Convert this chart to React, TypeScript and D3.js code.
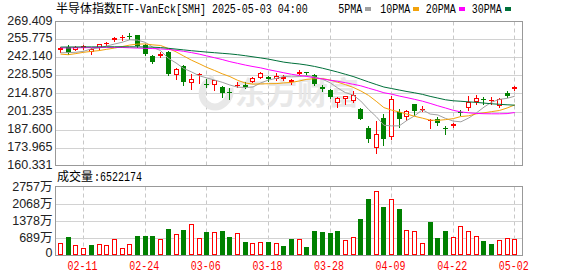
import React from "react";
import * as d3 from "d3";

// ---- data ----
const dates = ["02-06","02-07","02-10","02-11","02-12","02-13","02-14","02-18","02-19","02-20","02-21","02-24","02-25","02-26","02-27","02-28","03-03","03-04","03-05","03-06","03-07","03-10","03-11","03-12","03-13","03-14","03-17","03-18","03-19","03-20","03-21","03-24","03-25","03-26","03-27","03-28","03-31","04-01","04-02","04-03","04-04","04-07","04-08","04-09","04-10","04-11","04-14","04-15","04-16","04-17","04-21","04-22","04-23","04-24","04-25","04-28","04-29","04-30","05-01","05-02"];

const open = [248.00,250.28,248.00,249.01,246.48,249.27,252.31,255.35,257.12,258.64,259.15,251.54,243.19,242.93,246.23,229.25,235.58,222.91,228.74,222.16,221.65,219.62,215.82,221.14,221.14,223.67,226.97,227.22,225.96,226.21,223.93,230.01,231.02,229.25,219.87,217.85,207.97,211.00,208.98,202.90,188.96,173.76,196.56,181.87,200.87,196.82,206.70,202.14,193.78,195.81,188.71,189.98,201.12,203.91,208.47,211.00,209.49,205.69,215.31,218.35];
const high = [249.77,251.54,250.53,251.54,249.27,252.31,254.08,257.88,259.40,260.41,259.40,252.31,244.20,246.23,246.99,234.06,236.09,230.01,230.52,225.70,225.45,220.89,219.37,223.42,223.42,227.48,231.28,228.49,230.52,228.74,226.21,232.80,231.28,230.01,221.65,218.10,212.27,212.78,216.58,204.17,189.98,194.03,199.10,212.78,202.90,202.14,207.21,205.18,195.55,197.07,189.98,192.51,202.65,212.78,213.54,212.27,212.02,211.51,216.84,220.89];
const low = [246.48,244.45,247.75,248.25,244.96,248.76,251.29,254.59,255.35,256.11,250.28,244.20,237.86,242.17,228.74,225.96,221.14,218.10,223.17,219.87,217.85,212.27,211.00,219.87,219.11,223.42,226.46,224.44,224.94,224.94,222.16,230.01,229.50,221.65,216.84,211.51,204.67,207.21,208.47,195.30,178.07,169.96,175.53,180.35,189.47,194.54,198.85,201.63,188.71,191.24,184.40,189.47,198.85,202.65,207.21,207.21,207.21,204.67,212.53,217.34];
const close = [249.01,245.21,249.77,250.79,248.76,252.05,252.81,257.12,257.63,258.13,250.79,244.45,238.62,244.45,229.50,233.05,223.67,225.70,229.76,221.14,224.94,215.31,215.05,221.65,219.87,226.97,230.52,226.21,227.99,227.22,225.45,231.53,230.52,222.41,218.61,212.27,211.51,212.78,213.54,195.55,180.60,184.40,180.10,211.00,195.81,201.37,201.63,203.15,194.54,192.51,188.20,191.50,200.36,208.77,211.77,210.50,210.25,210.75,212.78,219.87];

// volume in 万 shares
const volume = [493,733,386,280,400,440,400,626,280,440,759,759,759,626,1039,839,999,1239,666,919,919,959,719,879,533,480,519,533,480,360,639,639,320,959,919,879,959,599,706,1439,2238,2557,1918,2238,1838,999,959,480,1319,679,959,719,1159,959,759,573,440,599,679,652];

const ma5 = [245.69,245.85,246.07,246.83,248.71,249.32,250.84,252.31,253.67,255.55,255.30,253.62,249.92,247.29,241.56,238.01,233.86,231.27,228.34,226.66,225.04,223.37,221.29,219.67,219.42,219.82,222.86,225.04,226.31,227.78,227.48,227.68,228.54,227.43,225.70,223.07,219.06,215.52,213.74,209.13,202.80,197.37,190.84,190.33,190.38,194.54,197.98,202.59,199.30,198.64,196.01,193.98,193.42,196.27,200.12,204.58,208.33,210.41,211.21,212.83];
const ma10 = [244.70,244.25,245.09,246.07,246.76,247.37,248.35,249.26,250.41,251.55,252.31,252.38,251.70,251.24,248.96,246.45,243.26,240.14,237.48,234.67,232.32,229.81,227.68,224.87,222.80,221.98,222.13,222.28,222.36,222.89,223.27,224.33,225.62,226.08,226.24,225.10,223.42,221.60,219.54,216.81,213.46,208.98,204.19,202.29,200.85,199.25,197.58,196.21,194.69,194.54,195.07,195.83,197.43,197.96,199.48,200.24,201.15,201.99,203.89,206.24];
const ma20 = [249.42,249.42,249.49,249.57,249.65,249.72,249.80,249.80,249.72,249.49,249.27,249.11,248.89,248.66,248.28,247.59,246.83,245.85,244.71,243.34,241.97,240.60,239.01,237.71,236.42,235.28,234.29,232.92,231.78,230.57,229.43,228.52,227.76,226.77,225.93,224.94,224.11,223.04,221.90,220.69,218.94,217.27,215.44,214.38,212.93,211.72,210.43,209.06,207.39,205.56,203.89,202.14,200.92,200.24,199.78,199.56,199.48,199.48,199.63,200.47];
const ma30 = [250.03,250.10,250.10,250.18,250.18,250.18,250.25,250.25,250.25,250.25,250.18,250.10,249.95,249.65,249.11,248.51,247.90,247.29,246.76,246.23,245.77,245.31,244.86,244.25,243.49,242.65,241.82,240.91,239.77,238.63,237.87,237.26,236.42,235.36,234.06,232.62,231.10,229.43,227.76,225.70,223.65,221.68,219.77,218.63,217.49,216.35,215.37,214.23,212.71,211.41,210.12,209.36,208.98,208.53,208.15,207.61,207.08,206.70,206.32,206.02];

const priceTicks = [269.409, 255.775, 242.140, 228.505, 214.870, 201.235, 187.600, 173.965, 160.331];
const volTicks = [2757, 2068, 1378, 689, 0];
const dateTicks = ["02-11", "02-24", "03-06", "03-18", "03-28", "04-09", "04-22", "05-02"];

const maNames = ["5PMA", "10PMA", "20PMA", "30PMA"];
const maColors = ["#a0a0a0", "#f2a20c", "#ff00ff", "#00703a"];
const maSeries = [ma5, ma10, ma20, ma30];

const titleCn = "半导体指数";
const titleEn = "ETF-VanEck[SMH] 2025-05-03 04:00";
const volTitleCn = "成交量";
const volTitleNum = ":6522174";

// ---- layout ----
const W = 578, H = 276;
const L = 55.5, R = 522.5;
const PT = 21.5, PB = 165.5;
const VT = 186.5, VB = 255.5;
const RED = "#ff0000", GREEN = "#008000";
const numFont = "'Liberation Sans', Arial, 'Noto Sans CJK SC', sans-serif";
const monoFont = "'Liberation Mono', 'DejaVu Sans Mono', monospace";
const cjkFont = "'Noto Sans CJK SC', sans-serif";

// half-width (6px per char) text, stretched vertically to a 12px look
function Mono({ x, y, text, fill = "#000", anchor = "start" }: { x: number; y: number; text: string; fill?: string; anchor?: string }) {
  return (
    <text
      transform={`translate(${x},${y}) scale(1,1.2)`}
      x={0}
      y={0}
      textAnchor={anchor as any}
      fontFamily={monoFont}
      fontSize={10}
      fill={fill}
    >
      {text}
    </text>
  );
}

export default function App() {
  const x = d3.scalePoint<string>().domain(dates).range([60.5, 514.8]);
  const y = d3.scaleLinear().domain([priceTicks[priceTicks.length - 1], priceTicks[0]]).range([PB, PT]);
  const yv = d3.scaleLinear().domain([0, volTicks[0]]).range([VB - 0.5, VT]);

  const line = d3.line<number>().x((_, i) => x(dates[i]) as number).y((d) => y(d));

  const gridX = dateTicks.map((d) => Math.round((x(d) as number) - 2.5) + 2.5);
  const legendStarts = [338.3, 380.3, 425.7, 471.7];

  return (
    <svg width={W} height={H} style={{ position: "fixed", left: 0, top: 0, background: "#fff" }}>
      <rect x={0} y={0} width={W} height={H} fill="#fff" />
      {/* title */}
      <text x={56} y={12.5} fontFamily={cjkFont} fontSize={12} fill="#000">{titleCn}</text>
      <Mono x={116} y={12.5} text={titleEn} />
      {/* legend */}
      {maNames.map((n, k) => {
        const w = n.length * 6;
        return (
          <g key={n}>
            <Mono x={legendStarts[k]} y={12.5} text={n} />
            <rect x={Math.round(legendStarts[k] + w + 3)} y={7} width={6} height={4} fill={maColors[k]} />
          </g>
        );
      })}

      {/* price panel grid */}
      {priceTicks.slice(1, -1).map((t) => (
        <line key={t} x1={L} x2={R} y1={Math.round(y(t)) + 0.5} y2={Math.round(y(t)) + 0.5} stroke="#d2d2d2" />
      ))}
      {gridX.map((gx, k) => (
        <g key={k}>
          <line x1={gx} x2={gx} y1={PT} y2={PB} stroke="#c8c8c8" strokeDasharray="4,3" />
          <line x1={gx} x2={gx} y1={VT} y2={VB} stroke="#c8c8c8" strokeDasharray="4,3" />
        </g>
      ))}

      {/* watermark */}
      <g opacity={0.9}>
        <path d="M 214 78 C 200 84, 198 100, 210 106 C 220 110, 232 100, 230 88" fill="none" stroke="#e6e6e6" strokeWidth={7} />
        <text x={235} y={104} fontFamily={cjkFont} fontSize={31} fontWeight={700} fill="#e6e6e6">东方财富</text>
      </g>

      {/* price labels */}
      {priceTicks.map((t) => (
        <text key={t} x={52.5} y={y(t) - 1} textAnchor="end" dominantBaseline="central" fontFamily={numFont} fontSize={12.5} fill="#222">{t.toFixed(3)}</text>
      ))}

      {/* candles */}
      {dates.map((d, i) => {
        const cx = x(d) as number;
        const left = Math.round(cx - 2.5);
        const wx = left + 2.5;
        const yo = Math.round(y(open[i]));
        const yc = Math.round(y(close[i]));
        const yh = Math.round(y(high[i]));
        const yl = Math.round(y(low[i]));
        if (close[i] >= open[i]) {
          const top = yc, bot = yo;
          return (
            <g key={d} stroke={RED} shapeRendering="crispEdges">
              <line x1={wx} x2={wx} y1={yh} y2={top} />
              <line x1={wx} x2={wx} y1={bot} y2={yl + 1} />
              {bot - top >= 2 ? (
                <rect x={left + 0.5} y={top + 0.5} width={4} height={bot - top - 1} fill="#fff" />
              ) : (
                <rect x={left} y={top} width={5} height={Math.max(bot - top, 1)} fill={RED} stroke="none" />
              )}
            </g>
          );
        }
        return (
          <g key={d} shapeRendering="crispEdges">
            <line x1={wx} x2={wx} y1={yh} y2={yl + 1} stroke={GREEN} />
            <rect x={left} y={yo} width={5} height={Math.max(yc - yo, 1)} fill={GREEN} />
          </g>
        );
      })}

      {/* moving averages */}
      {maSeries.map((s, k) => (
        <path key={k} d={line(s) || ""} fill="none" stroke={maColors[k]} strokeWidth={1} />
      ))}

      <rect x={L} y={PT} width={R - L} height={PB - PT} fill="none" stroke="#999" />

      {/* volume panel */}
      <text x={57} y={181} fontFamily={cjkFont} fontSize={12} fill="#000">{volTitleCn}</text>
      <Mono x={94} y={181} text={volTitleNum} />
      {volTicks.slice(1, -1).map((t) => (
        <line key={t} x1={L} x2={R} y1={Math.round(yv(t)) + 0.5} y2={Math.round(yv(t)) + 0.5} stroke="#d2d2d2" />
      ))}
      {volTicks.map((t) => (
        <text key={t} x={52.5} y={t === 0 ? 253 : yv(t)} textAnchor="end" dominantBaseline="central" fontFamily={numFont} fontSize={12.5} fill="#222">{t === 0 ? "0" : `${t}万`}</text>
      ))}
      {dates.map((d, i) => {
        const cx = x(d) as number;
        const left = Math.round(cx - 2.5);
        const top = Math.round(yv(volume[i]));
        const bottom = VB - 0.5;
        const up = i === 0 ? close[i] >= open[i] : close[i] > close[i - 1];
        return up ? (
          <rect key={d} x={left + 0.5} y={top + 0.5} width={4} height={bottom - top - 1} fill="#fff" stroke={RED} shapeRendering="crispEdges" />
        ) : (
          <rect key={d} x={left} y={top} width={5} height={bottom - top} fill={GREEN} shapeRendering="crispEdges" />
        );
      })}
      <rect x={L} y={VT} width={R - L} height={VB - VT} fill="none" stroke="#999" />

      {/* date labels */}
      {dateTicks.map((d) => (
        <Mono key={d} x={(x(d) as number) - 1} y={270} text={d} fill={RED} anchor="middle" />
      ))}
    </svg>
  );
}
